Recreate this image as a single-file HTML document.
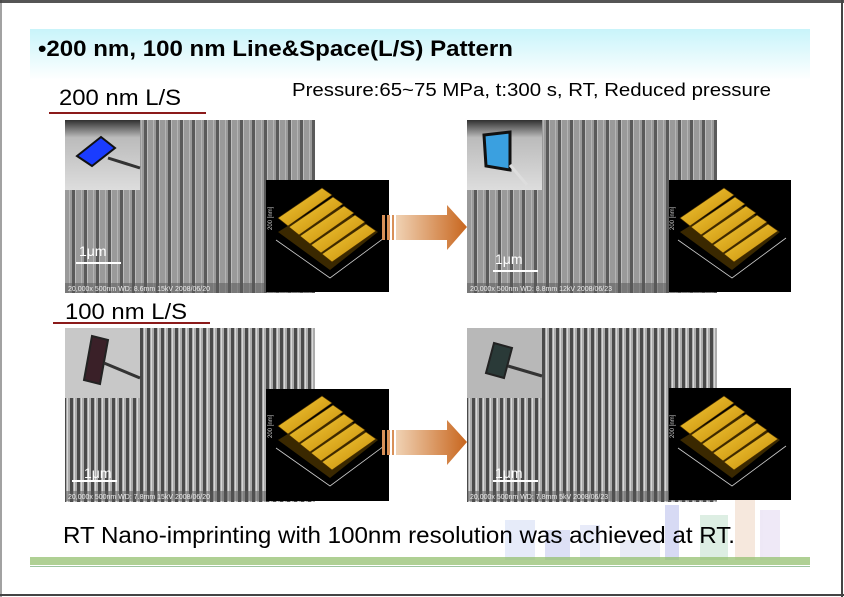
<!DOCTYPE html>
<html><head><meta charset="utf-8"><style>
html,body{margin:0;padding:0;background:#fff;}
svg{display:block;}
text{font-family:"Liberation Sans",sans-serif;}
</style></head><body>
<svg width="844" height="597" viewBox="0 0 844 597" xmlns="http://www.w3.org/2000/svg">
<defs>
<linearGradient id="tb" x1="0" y1="0" x2="0" y2="1"><stop offset="0" stop-color="#c8f4fa"/><stop offset="1" stop-color="#ffffff"/></linearGradient>
<linearGradient id="ar" x1="0" y1="0" x2="1" y2="0"><stop offset="0" stop-color="#f0d2b4"/><stop offset="1" stop-color="#c8661e"/></linearGradient>
<pattern id="p200" width="12" height="10" patternUnits="userSpaceOnUse"><rect width="12" height="10" fill="#9a9a9a"/><rect x="0" width="3" height="10" fill="#5a5a5a"/><rect x="3" width="1" height="10" fill="#bdbdbd"/><rect x="9" width="1" height="10" fill="#b5b5b5"/></pattern>
<pattern id="p100" width="7" height="10" patternUnits="userSpaceOnUse"><rect width="7" height="10" fill="#acacac"/><rect x="0" width="3" height="10" fill="#4a4a4a"/><rect x="4" width="1" height="10" fill="#d8d8d8"/></pattern>
<linearGradient id="au" x1="0" y1="0" x2="1" y2="1"><stop offset="0" stop-color="#f8d040"/><stop offset="1" stop-color="#c08400"/></linearGradient>
<linearGradient id="ph" x1="0" y1="0" x2="0" y2="1"><stop offset="0" stop-color="#303030"/><stop offset="0.25" stop-color="#bbb"/><stop offset="1" stop-color="#ddd"/></linearGradient>
<g id="afm">
<polygon points="278,232 330,270 378,232 330,200" fill="#3a2800"/>
<g fill="url(#au)" stroke="#4a3000" stroke-width="0.6">
<polygon points="278,218 322,188 332,195 288,226"/>
<polygon points="289,227 333,197 343,204 299,235"/>
<polygon points="300,236 344,206 354,213 310,244"/>
<polygon points="311,245 355,215 365,222 321,253"/>
<polygon points="322,254 366,224 376,231 332,262"/>
</g>
<polyline points="276,240 330,278 384,238" fill="none" stroke="#ccc" stroke-width="0.8"/>
<text x="272" y="230" font-size="6" fill="#ccc" transform="rotate(-90 272 230)">200 [nm]</text>
</g>
</defs>
<rect x="0" y="0" width="844" height="597" fill="#fff"/>
<rect x="0" y="0" width="844" height="3" fill="#555"/>
<rect x="0.5" y="0" width="1" height="597" fill="#444"/>
<rect x="841" y="0" width="2" height="597" fill="#444"/>
<rect x="0" y="594" width="844" height="2" fill="#444"/>
<rect x="30" y="29" width="780" height="51" fill="url(#tb)"/>
<text x="38" y="56" font-size="22" font-weight="bold" textLength="475" lengthAdjust="spacingAndGlyphs">•200 nm, 100 nm Line&amp;Space(L/S) Pattern</text>
<text x="59" y="105" font-size="22" textLength="122" lengthAdjust="spacingAndGlyphs">200 nm L/S</text>
<rect x="49" y="112" width="157" height="2" fill="#8b1a1a"/>
<text x="292" y="96" font-size="18" textLength="479" lengthAdjust="spacingAndGlyphs">Pressure:65~75 MPa, t:300 s, RT, Reduced pressure</text>
<text x="65" y="319" font-size="22" textLength="122" lengthAdjust="spacingAndGlyphs">100 nm L/S</text>
<rect x="53" y="322" width="157" height="2" fill="#8b1a1a"/>

<g>
<rect x="65" y="120" width="250" height="173" fill="url(#p200)"/>
<rect x="65" y="120" width="75" height="70" fill="url(#ph)"/>
<polygon points="77,156 101,137 115,148 92,166" fill="#1a3cff" stroke="#111" stroke-width="2"/>
<line x1="108" y1="158" x2="140" y2="168" stroke="#333" stroke-width="3"/>
<rect x="65" y="283" width="250" height="10" fill="#555" opacity="0.5"/>
<text x="68" y="291" font-size="7" fill="#eee">20,000x 500nm WD: 8.6mm 15kV 2008/06/20</text>
<rect x="76" y="262" width="45" height="2" fill="#fff"/>
<text x="79" y="256" font-size="14" fill="#fff">1μm</text>
<rect x="266" y="180" width="123" height="112" fill="#000"/>
<use href="#afm"/>
</g>
<g transform="translate(402,0)">
<rect x="65" y="120" width="250" height="173" fill="url(#p200)"/>
<rect x="65" y="120" width="75" height="70" fill="url(#ph)"/>
<polygon points="82,135 108,132 108,170 84,166" fill="#3aa0e0" stroke="#111" stroke-width="3"/>
<line x1="108" y1="165" x2="125" y2="185" stroke="#ddd" stroke-width="3"/>
<rect x="65" y="283" width="250" height="10" fill="#555" opacity="0.5"/>
<text x="68" y="291" font-size="7" fill="#eee">20,000x 500nm WD: 8.8mm 12kV 2008/06/23</text>
<rect x="91" y="270" width="45" height="2" fill="#fff"/>
<text x="93" y="264" font-size="14" fill="#fff">1μm</text>
<rect x="267" y="180" width="122" height="112" fill="#000"/>
<use href="#afm"/>
</g>
<g transform="translate(0,208)">
<rect x="65" y="120" width="250" height="174" fill="url(#p100)"/>
<rect x="65" y="120" width="75" height="70" fill="#c8c8c8"/>
<polygon points="84,172 92,128 108,132 100,176" fill="#3a2028" stroke="#222" stroke-width="2"/>
<line x1="104" y1="155" x2="140" y2="170" stroke="#333" stroke-width="3"/>
<rect x="65" y="283" width="250" height="10" fill="#555" opacity="0.5"/>
<text x="68" y="291" font-size="7" fill="#eee">20,000x 500nm WD: 7.8mm 15kV 2008/06/20</text>
<rect x="72" y="272" width="45" height="2" fill="#fff"/>
<text x="84" y="270" font-size="14" fill="#fff">1μm</text>
<rect x="266" y="181" width="123" height="112" fill="#000"/>
<use href="#afm"/>
</g>
<g transform="translate(402,208)">
<rect x="65" y="120" width="250" height="174" fill="url(#p100)"/>
<rect x="65" y="120" width="75" height="70" fill="#b8b8b8"/>
<polygon points="84,165 92,135 110,140 102,170" fill="#2a3a38" stroke="#222" stroke-width="2"/>
<line x1="106" y1="158" x2="140" y2="168" stroke="#333" stroke-width="3"/>
<rect x="65" y="283" width="250" height="10" fill="#555" opacity="0.5"/>
<text x="68" y="291" font-size="7" fill="#eee">20,000x 500nm WD: 7.8mm 5kV 2008/06/23</text>
<rect x="91" y="272" width="45" height="2" fill="#fff"/>
<text x="93" y="270" font-size="14" fill="#fff">1μm</text>
<rect x="267" y="180" width="122" height="112" fill="#000"/>
<use href="#afm"/>
</g>
<g>
<rect x="382" y="215" width="3" height="25" fill="#d89058"/><rect x="387" y="215" width="3" height="25" fill="#d89058"/><rect x="392" y="215" width="2" height="25" fill="#d89058"/>
<polygon points="396,215 447,215 447,205 467,227 447,250 447,240 396,240" fill="url(#ar)"/>
</g>
<g transform="translate(0,215)">
<rect x="382" y="215" width="3" height="25" fill="#d89058"/><rect x="387" y="215" width="3" height="25" fill="#d89058"/><rect x="392" y="215" width="2" height="25" fill="#d89058"/>
<polygon points="396,215 447,215 447,205 467,227 447,250 447,240 396,240" fill="url(#ar)"/>
</g>
<g opacity="0.35">
<rect x="505" y="520" width="30" height="40" fill="#b8c8f0"/>
<rect x="545" y="530" width="25" height="30" fill="#a0a8e8"/>
<rect x="580" y="525" width="20" height="35" fill="#c0c8f0"/>
<rect x="665" y="505" width="14" height="55" fill="#9098e0"/>
<rect x="700" y="515" width="28" height="45" fill="#a0d0b0"/>
<rect x="735" y="500" width="20" height="60" fill="#e8c0a0"/>
<rect x="760" y="510" width="20" height="50" fill="#d0c0e8"/>
<rect x="620" y="540" width="40" height="20" fill="#c0c8e8"/>
</g>
<rect x="30" y="557" width="780" height="8" fill="#94c070" opacity="0.75"/>
<rect x="30" y="566" width="780" height="1" fill="#9cc4a0"/>
<text x="63" y="543" font-size="23" textLength="672" lengthAdjust="spacingAndGlyphs">RT Nano-imprinting with 100nm resolution was achieved at RT.</text>
</svg>
</body></html>
